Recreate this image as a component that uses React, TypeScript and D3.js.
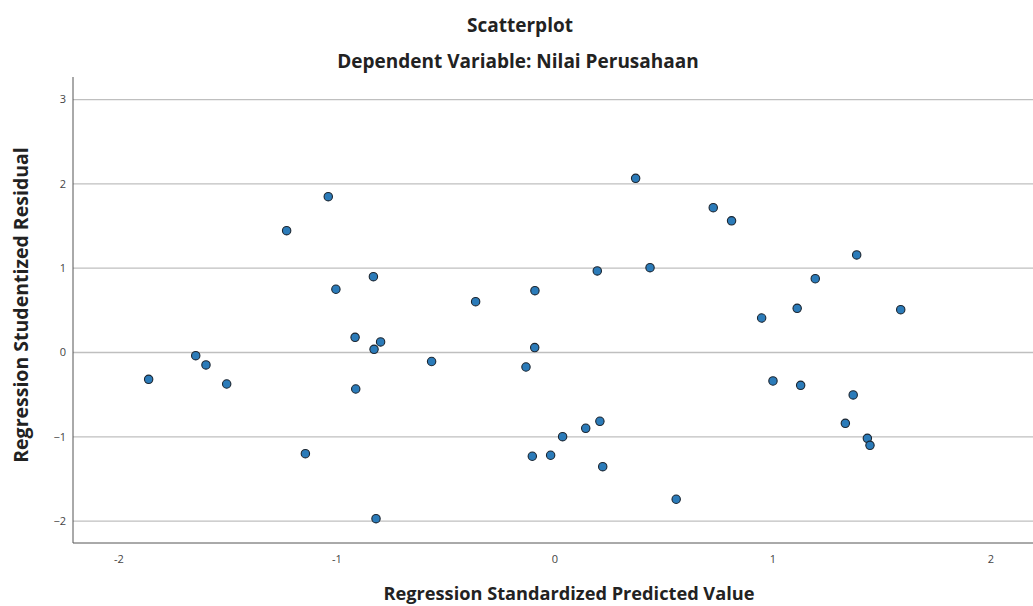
import React from "react";
import * as d3 from "d3";

const predicted: number[] = [
  -1.864, -1.648, -1.601, -1.506, -1.231, -1.145, -1.04, -1.005, -0.917, -0.914,
  -0.833, -0.83, -0.8, -0.821, -0.566, -0.364, -0.133, -0.092, -0.093, -0.104,
  -0.02, 0.035, 0.141, 0.194, 0.206, 0.219, 0.37, 0.436, 0.556, 0.726,
  0.81, 0.948, 1.0, 1.111, 1.127, 1.194, 1.332, 1.368, 1.384, 1.433,
  1.445, 1.586,
];
const residual: number[] = [
  -0.318, -0.038, -0.148, -0.374, 1.445, -1.2, 1.848, 0.75, 0.18, -0.433,
  0.899, 0.038, 0.125, -1.972, -0.107, 0.603, -0.172, 0.733, 0.058, -1.231,
  -1.219, -0.999, -0.899, 0.967, -0.816, -1.355, 2.066, 1.006, -1.741, 1.718,
  1.562, 0.409, -0.338, 0.524, -0.389, 0.875, -0.84, -0.504, 1.157, -1.018,
  -1.101, 0.508,
];
const xTicks: number[] = [-2, -1, 0, 1, 2];
const yTicks: number[] = [-2, -1, 0, 1, 2, 3];
const title = "Scatterplot";
const subtitle = "Dependent Variable: Nilai Perusahaan";
const xTitle = "Regression Standardized Predicted Value";
const yTitle = "Regression Studentized Residual";

const W = 1033;
const H = 606;
const L = 73, R = 1035, T = 77, B = 543;

export default function App() {
  const x = d3.scaleLinear().domain([-2.211, 2.202]).range([L, R]);
  const y = d3.scaleLinear().domain([-2.26, 3.268]).range([B, T]);
  const font = "'Open Sans', 'Noto Sans', sans-serif";
  return (
    <svg width={W} height={H} style={{ position: "fixed", left: 0, top: 0, background: "#fff" }}>
      <rect x={0} y={0} width={W} height={H} fill="#fff" />
      {yTicks.map((t) => (
        <line key={"g" + t} x1={L} x2={R} y1={y(t)} y2={y(t)} stroke="#bfbfbf" strokeWidth={1.3} />
      ))}
      <line x1={L} x2={L} y1={T} y2={B} stroke="#555" strokeWidth={1} />
      <line x1={L} x2={R} y1={B} y2={B} stroke="#555" strokeWidth={1} />
      {yTicks.map((t) => (
        <text key={"y" + t} x={66} y={y(t)} dy="0.35em" textAnchor="end" fontSize={11} fill="#444" fontFamily={font}>
          {t < 0 ? "\u2212" + Math.abs(t) : t}
        </text>
      ))}
      {xTicks.map((t) => (
        <text key={"x" + t} x={x(t)} y={563} textAnchor="middle" fontSize={11} fill="#444" fontFamily={font}>
          {t < 0 ? "-" + Math.abs(t) : t}
        </text>
      ))}
      {predicted.map((p, i) => (
        <circle key={i} cx={x(p)} cy={y(residual[i])} r={4.2} fill="#2b7bb9" stroke="#1b2530" strokeWidth={1.1} />
      ))}
      <text x={520} y={32} textAnchor="middle" fontSize={19} fontWeight="bold" fill="#222" fontFamily={font}>
        {title}
      </text>
      <text x={518} y={68} textAnchor="middle" fontSize={19} fontWeight="bold" fill="#222" fontFamily={font}>
        {subtitle}
      </text>
      <text x={569} y={600} textAnchor="middle" fontSize={18.2} fontWeight="bold" fill="#222" fontFamily={font}>
        {xTitle}
      </text>
      <text
        transform={`translate(28, ${305}) rotate(-90)`}
        textAnchor="middle"
        fontSize={19.5}
        fontWeight="bold"
        fill="#222"
        fontFamily={font}
      >
        {yTitle}
      </text>
    </svg>
  );
}
